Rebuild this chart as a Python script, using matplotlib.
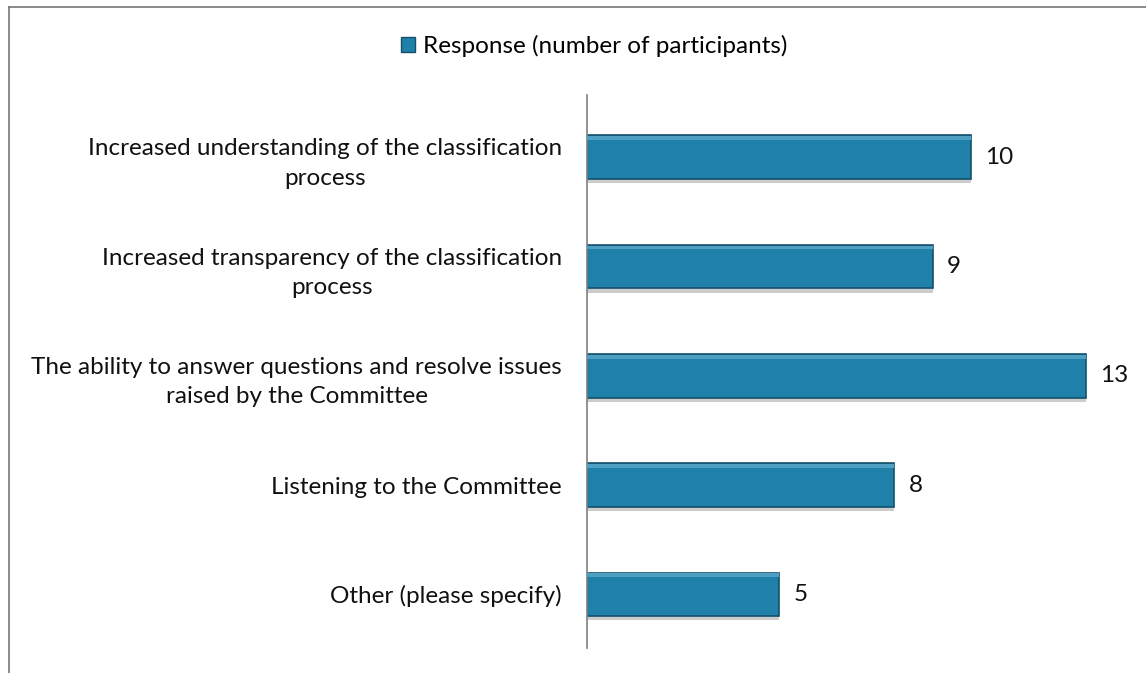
import matplotlib.pyplot as plt
import matplotlib.patheffects as pe
from matplotlib.lines import Line2D
from matplotlib.patches import Patch

categories = [
    "Increased understanding of the classification\nprocess",
    "Increased transparency of the classification\nprocess",
    "The ability to answer questions and resolve issues\nraised by the Committee",
    "Listening to the Committee",
    "Other (please specify)",
]
responses = [10, 9, 13, 8, 5]
legend_label = "Response (number of participants)"

plt.rcParams['font.family'] = ['Lato', 'DejaVu Sans']
bar_color = "#1f80a9"
edge_color = "#14506b"
fs = 17.5

fig = plt.figure(figsize=(11.46, 6.73), dpi=100)
ax = fig.add_axes([587 / 1146, 1 - 648 / 673, 537.6 / 1146, 553 / 673])

ypos = list(range(len(categories)))
shadow = [pe.SimplePatchShadow(offset=(0, -3), shadow_rgbFace="#9a9a9a", alpha=0.5), pe.Normal()]
bars = ax.barh(ypos, responses, height=0.40, color=bar_color, edgecolor=edge_color,
               linewidth=1.2, path_effects=shadow, zorder=2)
# light bevel along the top of each bar
ax.barh([y - 0.175 for y in ypos], responses, height=0.035, color="#4f9fc2",
        linewidth=0, zorder=3)

for y, v in zip(ypos, responses):
    ax.text(v + 0.37, y, str(v), va="center", ha="left", fontsize=fs, color="#111111")

ax.set_yticks(ypos)
ax.set_yticklabels(categories, fontsize=fs, color="#111111", multialignment="center",
                   linespacing=1.5)
ax.tick_params(axis="y", length=0, pad=18)
ax.set_xticks([])
ax.set_xlim(0, 14)
ax.set_ylim(4.49, -0.57)
for s in ["top", "right", "bottom"]:
    ax.spines[s].set_visible(False)
ax.spines["left"].set_color("#808080")
ax.spines["left"].set_linewidth(1.2)

fig.legend(handles=[Patch(facecolor=bar_color, edgecolor=edge_color, label=legend_label)],
           loc="center", bbox_to_anchor=(594 / 1146, 1 - 46 / 673), frameon=False,
           fontsize=fs, handlelength=0.6, handleheight=0.6, handletextpad=0.3)

# outer chart border (top and left visible in the scan)
fig.add_artist(Line2D([9 / 1146, 1], [1 - 7 / 673, 1 - 7 / 673], color="#777777", lw=1.2))
fig.add_artist(Line2D([9 / 1146, 9 / 1146], [0, 1 - 7 / 673], color="#777777", lw=1.2))

fig.savefig("out.png", dpi=100)
